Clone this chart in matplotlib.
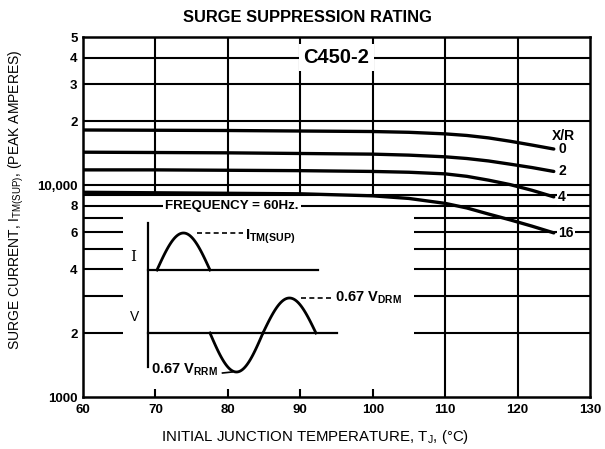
import numpy as np
import matplotlib
matplotlib.use("Agg")
import matplotlib.pyplot as plt
from matplotlib.ticker import FixedLocator, NullLocator

plt.rcParams['font.family'] = ['Liberation Sans', 'DejaVu Sans']

# ---- data ----
temps = [60, 70, 80, 90, 100, 105, 110, 113, 116, 119, 122, 125]
curve_xr0 = [18200, 18150, 18100, 18000, 17900, 17750, 17450, 17150, 16700, 16100, 15450, 14800]
curve_xr2 = [14300, 14250, 14200, 14100, 14000, 13850, 13600, 13350, 13000, 12550, 12100, 11600]
curve_xr4 = [11800, 11800, 11750, 11700, 11600, 11500, 11300, 11000, 10550, 10050, 9450, 8800]
curve_xr16 = [9250, 9200, 9150, 9100, 8900, 8650, 8200, 7800, 7300, 6850, 6400, 5950]
xr_labels = ['0', '2', '4', '16']

x_ticks = [60, 70, 80, 90, 100, 110, 120, 130]
x_ticklabels = ['60', '70', '80', '90', '100', '110', '120', '130']
y_ticks = [1000, 2000, 4000, 6000, 8000, 10000, 20000, 30000, 40000, 50000]
y_ticklabels = ['1000', '2', '4', '6', '8', '10,000', '2', '3', '4', '5']

full_hlines = [8000, 9000, 10000, 20000, 30000, 40000]
stub_hlines = [2000, 3000, 4000, 5000, 6000, 7000]
full_vlines = [110, 120]
short_vlines = [70, 80, 90, 100]

# ---- figure ----
fig = plt.figure(figsize=(6.05, 4.49), dpi=100)
ax = fig.add_axes([83/605, 52/449, 507/605, 360/449])
ax.set_yscale('log')
ax.set_xlim(60, 130)
ax.set_ylim(1000, 50000)

lw_grid = 1.5
for v in full_hlines:
    ax.hlines(v, 60, 130, color='black', lw=lw_grid, zorder=1)
for v in stub_hlines:
    ax.hlines(v, 60, 65.5, color='black', lw=lw_grid, zorder=1)
    ax.hlines(v, 105.7, 130, color='black', lw=lw_grid, zorder=1)
for v in full_vlines:
    ax.vlines(v, 1000, 50000, color='black', lw=lw_grid, zorder=1)
for v in short_vlines:
    ax.vlines(v, 8900, 50000, color='black', lw=lw_grid, zorder=1)
    ax.vlines(v, 1000, 1090, color='black', lw=lw_grid, zorder=1)

curves = [curve_xr0, curve_xr2, curve_xr4, curve_xr16]
for vals, lab in zip(curves, xr_labels):
    ax.plot(temps, vals, color='black', lw=2.4, zorder=3, solid_capstyle='round')
    ax.text(temps[-1] + 0.6, vals[-1], lab, ha='left', va='center', fontsize=10,
            fontweight='bold', zorder=5,
            bbox=dict(facecolor='white', edgecolor='none', pad=1.0))
ax.text(126.4, 17100, 'X/R', ha='center', va='center', fontsize=10,
        fontweight='bold', zorder=5,
        bbox=dict(facecolor='white', edgecolor='none', pad=0.5))

ax.text(95, 40000, 'C450-2', ha='center', va='center', fontsize=14.5,
        fontweight='bold', zorder=5,
        bbox=dict(facecolor='white', edgecolor='none', pad=3.0))
ax.text(80.6, 8000, 'FREQUENCY = 60Hz.', ha='center', va='center', fontsize=9.6,
        fontweight='bold', zorder=5,
        bbox=dict(facecolor='white', edgecolor='none', pad=1.5))

for s in ax.spines.values():
    s.set_linewidth(1.8)

ax.xaxis.set_major_locator(FixedLocator(x_ticks))
ax.set_xticklabels(x_ticklabels)
ax.yaxis.set_major_locator(FixedLocator(y_ticks))
ax.yaxis.set_minor_locator(NullLocator())
ax.set_yticklabels(y_ticklabels)
ax.tick_params(axis='both', length=0, labelsize=9.5)
ax.tick_params(axis='x', pad=5)
ax.tick_params(axis='y', pad=4)
for t in ax.get_xticklabels() + ax.get_yticklabels():
    t.set_fontweight('bold')

ax.set_ylabel(r'SURGE CURRENT, I$_{\mathregular{TM(SUP)}}$, (PEAK AMPERES)', fontsize=10)
ax.yaxis.set_label_coords(-0.112, 0.547)
ax.set_xlabel(r'INITIAL JUNCTION TEMPERATURE, T$_{\mathregular{J}}$, (°C)', fontsize=10.8)
ax.xaxis.set_label_coords(0.458, -0.085)

fig.text(307/605, 1 - 18/449, 'SURGE SUPPRESSION RATING', ha='center', va='center',
         fontsize=11.9, fontweight='bold')

# ---- waveform schematic (inset) ----
half_cycle_ms = 8.33
i_base, i_amp = 110, 37
v_base, v_neg_amp, v_pos_amp = 47, 39, 35

axin = ax.inset_axes([42/507, 17/360, 220/507, 160/360])
axin.set_xlim(-5.03, 29.56)
axin.set_ylim(0, 160)
axin.axis('off')
axin.patch.set_alpha(0)

kw = dict(color='black', lw=1.6)
axin.plot([-1.4, -1.4], [13, 157], **kw)
axin.plot([-1.4, 25.3], [i_base, i_base], **kw)
axin.plot([-1.4, 28.3], [v_base, v_base], **kw)

t1 = np.linspace(0, half_cycle_ms, 60)
axin.plot(t1, i_base + i_amp * np.sin(np.pi * t1 / half_cycle_ms), color='black', lw=2.0)
t2 = np.linspace(half_cycle_ms, 2 * half_cycle_ms, 60)
axin.plot(t2, v_base - v_neg_amp * np.sin(np.pi * (t2 - half_cycle_ms) / half_cycle_ms),
          color='black', lw=2.0)
t3 = np.linspace(2 * half_cycle_ms, 3 * half_cycle_ms, 60)
axin.plot(t3, v_base + v_pos_amp * np.sin(np.pi * (t3 - 2 * half_cycle_ms) / half_cycle_ms),
          color='black', lw=2.0)

dash = dict(color='black', lw=1.2, linestyle=(0, (3, 2)))
axin.plot([6.3, 13.5], [i_base + i_amp, i_base + i_amp], **dash)
axin.text(13.8, i_base + i_amp - 4, r'I$_{\mathregular{TM(SUP)}}$', ha='left', va='center',
          fontsize=11, fontweight='bold')
axin.plot([22.6, 27.6], [v_base + v_pos_amp, v_base + v_pos_amp], **dash)
axin.text(28.0, v_base + v_pos_amp, r'0.67 V$_{\mathregular{DRM}}$', ha='left', va='center',
          fontsize=10.5, fontweight='bold', clip_on=False)
axin.text(-1.0, 10, r'0.67 V$_{\mathregular{RRM}}$', ha='left', va='center',
          fontsize=10.5, fontweight='bold')
axin.plot([10.3, 11.8], [7, 8], color='black', lw=1.2)
axin.text(-3.8, 123, 'I', ha='center', va='center', fontsize=11, family='DejaVu Serif')
axin.text(-3.6, 63, 'V', ha='center', va='center', fontsize=10)

fig.savefig('out.png', dpi=100)
